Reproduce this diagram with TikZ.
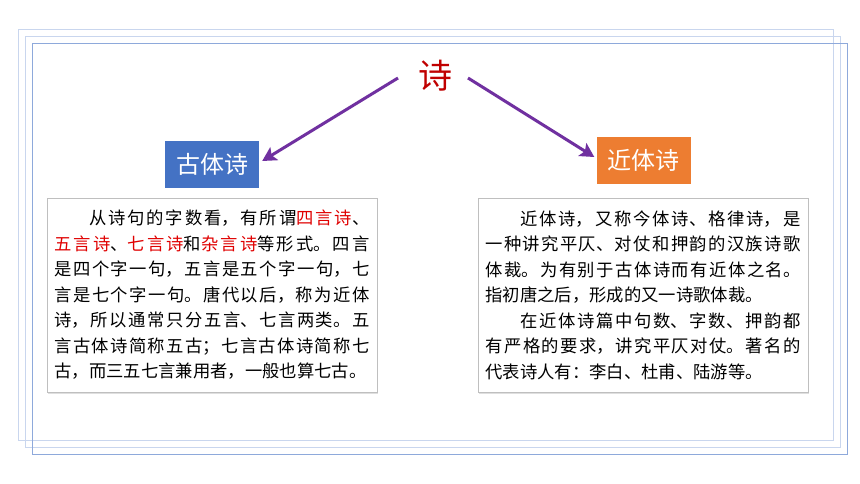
\documentclass[tikz,border=0pt]{standalone}
\usepackage{fontspec}
\newfontfamily\song{Noto Sans CJK SC}
\usetikzlibrary{arrows.meta,shadows}
\XeTeXlinebreaklocale "zh"
\XeTeXlinebreakskip=0pt plus 2pt
\definecolor{shired}{HTML}{C00000}
\definecolor{wordred}{HTML}{E00000}
\definecolor{arrowpurple}{HTML}{7030A0}
\definecolor{gublue}{HTML}{4472C4}
\definecolor{jinorange}{HTML}{ED7D31}
\definecolor{framelight}{HTML}{C9D6EE}
\definecolor{framedark}{HTML}{8EA9DB}
\definecolor{boxgray}{HTML}{BFBFBF}
\begin{document}
\begin{tikzpicture}[x=1pt,y=-1pt,
  framelite/.style={draw=framelight, line width=0.8pt},
  framedeep/.style={draw=framedark, line width=0.8pt},
  textbox/.style={draw=boxgray, line width=0.8pt, fill=white,
    drop shadow={shadow xshift=1pt, shadow yshift=-1.5pt, opacity=0.25},
    minimum width=330pt, minimum height=194pt, text width=315pt,
    inner xsep=7.5pt, inner ysep=0pt, align=justify,
    font=\song\fontsize{17.33pt}{25.5pt}\selectfont},
  titlebox/.style={minimum width=94pt, minimum height=47pt, inner sep=0pt,
    text=white, font=\song\fontsize{24pt}{28pt}\selectfont},
  conn/.style={draw=arrowpurple, line width=3pt,
    -{Stealth[length=14pt,width=15pt,inset=3pt]}}]
\useasboundingbox (0,0) rectangle (860,484);
\fill[white] (0,0) rectangle (860,484);
% frames
\draw[framelite] (18,29) rectangle (833,440);
\draw[framelite] (25,36) rectangle (840,447);
\draw[framedeep] (32,43) rectangle (847,454);
% title
\node[text=shired, font=\song\fontsize{34pt}{40pt}\selectfont, inner sep=0pt] (shi) at (435,76) {诗};
% category boxes
\node[titlebox, fill=gublue] (gu) at (212,164.5) {古体诗};
\node[titlebox, fill=jinorange] (jin) at (643.5,160.5) {近体诗};
% arrows
\coordinate (s1) at (398,78);
\coordinate (s2) at (468,78);
\draw[conn] (s1) -- ([shift={(3,-3.5)}]gu.east);
\draw[conn] (s2) -- ([shift={(-2,-3.5)}]jin.west);
% text boxes
\node[textbox] (lbox) at (212,295) {\hspace*{2em}从诗句的字数看，有所谓\textcolor{wordred}{四言诗}、\linebreak
\textcolor{wordred}{五言诗}、\textcolor{wordred}{七言诗}和\textcolor{wordred}{杂言诗}等形式。四言\linebreak
是四个字一句，五言是五个字一句，七\linebreak
言是七个字一句。唐代以后，称为近体\linebreak
诗，所以通常只分五言、七言两类。五\linebreak
言古体诗简称五古；七言古体诗简称七\linebreak
古，而三五七言兼用者，一般也算七古。};
\node[textbox] (rbox) at (643,295) {\hspace*{2em}近体诗，又称今体诗、格律诗，是\linebreak
一种讲究平仄、对仗和押韵的汉族诗歌\linebreak
体裁。为有别于古体诗而有近体之名。\linebreak
指初唐之后，形成的又一诗歌体裁。\par
\hspace*{2em}在近体诗篇中句数、字数、押韵都\linebreak
有严格的要求，讲究平仄对仗。著名的\linebreak
代表诗人有：李白、杜甫、陆游等。};
\end{tikzpicture}
\end{document}
